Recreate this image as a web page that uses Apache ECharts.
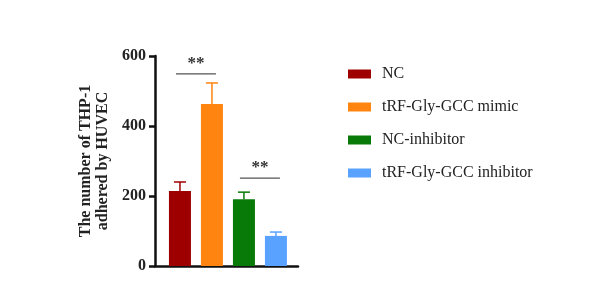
<!DOCTYPE html>
<html><head><meta charset="utf-8">
<script src="https://cdn.jsdelivr.net/npm/echarts@6/dist/echarts.min.js"></script>
<style>html,body{margin:0;padding:0;background:#fff}#c{width:600px;height:300px}</style>
</head><body><div id="c"></div>
<script>
var categories = ['NC', 'tRF-Gly-GCC mimic', 'NC-inhibitor', 'tRF-Gly-GCC inhibitor'];
var means = [214, 463, 191, 86];
var errors = [26, 60, 20, 11];
var colors = ['#9e0000', '#ff8410', '#087a08', '#5aa2ff'];
var yTicks = [0, 200, 400, 600];
var sigPairs = [[0, 1, 549], [2, 3, 251]];
var sigText = '**';

var serif = 'Liberation Serif, Times New Roman, serif';
var series = categories.map(function (name, i) {
  var d = categories.map(function (_, j) { return j === i ? [j, means[j]] : null; }).filter(Boolean);
  return {
    name: name, type: 'bar', barWidth: 22, data: d,
    itemStyle: { color: colors[i] }, barGap: '-100%', z: 2
  };
});
series.push({
  type: 'custom', name: 'err', z: 3,
  data: categories.map(function (_, i) { return [i, means[i], means[i] + errors[i]]; }),
  renderItem: function (params, api) {
    var x = api.value(0);
    var b = api.coord([x, api.value(1)]);
    var t = api.coord([x, api.value(2)]);
    var c = colors[params.dataIndex];
    return { type: 'group', children: [
      { type: 'line', shape: { x1: t[0], y1: b[1], x2: t[0], y2: t[1] }, style: { stroke: c, lineWidth: 1.5 } },
      { type: 'line', shape: { x1: t[0] - 6, y1: t[1], x2: t[0] + 6, y2: t[1] }, style: { stroke: c, lineWidth: 1.5 } }
    ]};
  }
});
series.push({
  type: 'custom', name: 'sig', z: 4,
  data: sigPairs,
  renderItem: function (params, api) {
    var p1 = api.coord([api.value(0), api.value(2)]);
    var p2 = api.coord([api.value(1), api.value(2)]);
    var mid = (p1[0] + p2[0]) / 2;
    var x1 = mid - 20, x2 = mid + 20;
    return { type: 'group', children: [
      { type: 'line', shape: { x1: x1, y1: p1[1], x2: x2, y2: p1[1] }, style: { stroke: '#555', lineWidth: 1.3 } },
      { type: 'text', style: { text: sigText, x: mid, y: p1[1] - 2, align: 'center', verticalAlign: 'bottom',
        font: 'bold 17px ' + serif, fill: '#333' } }
    ]};
  }
});

var chart = echarts.init(document.getElementById('c'));
chart.setOption({
  animation: false,
  backgroundColor: '#fff',
  grid: { left: 155, right: 302, top: 56, bottom: 34 },
  legend: {
    data: categories, orient: 'vertical', left: 343, top: 61,
    itemWidth: 23, itemHeight: 9, itemGap: 17, icon: 'rect',
    textStyle: { fontFamily: serif, fontSize: 16, color: '#222', padding: [0, 0, 0, 6] }
  },
  xAxis: {
    type: 'value', min: -0.78, max: 3.69,
    axisLine: { show: true, onZero: false, lineStyle: { color: '#111', width: 2.5 } },
    axisTick: { show: false }, axisLabel: { show: false }, splitLine: { show: false }
  },
  yAxis: {
    type: 'value', min: 0, max: 600, interval: 200,
    name: 'The number of THP-1\nadhered by HUVEC', nameLocation: 'middle', nameGap: 44,
    nameTextStyle: { fontFamily: serif, fontWeight: 'bold', fontSize: 16, color: '#222', lineHeight: 17 },
    axisLine: { show: true, onZero: false, lineStyle: { color: '#111', width: 2.5 } },
    axisTick: { show: true, length: 6, lineStyle: { color: '#111', width: 2.5 } },
    axisLabel: { fontFamily: serif, fontWeight: 'bold', fontSize: 16, color: '#222', margin: 9,
      formatter: function (v) { return yTicks.indexOf(v) >= 0 ? String(v) : ''; } },
    splitLine: { show: false }
  },
  series: series
});
</script></body></html>
